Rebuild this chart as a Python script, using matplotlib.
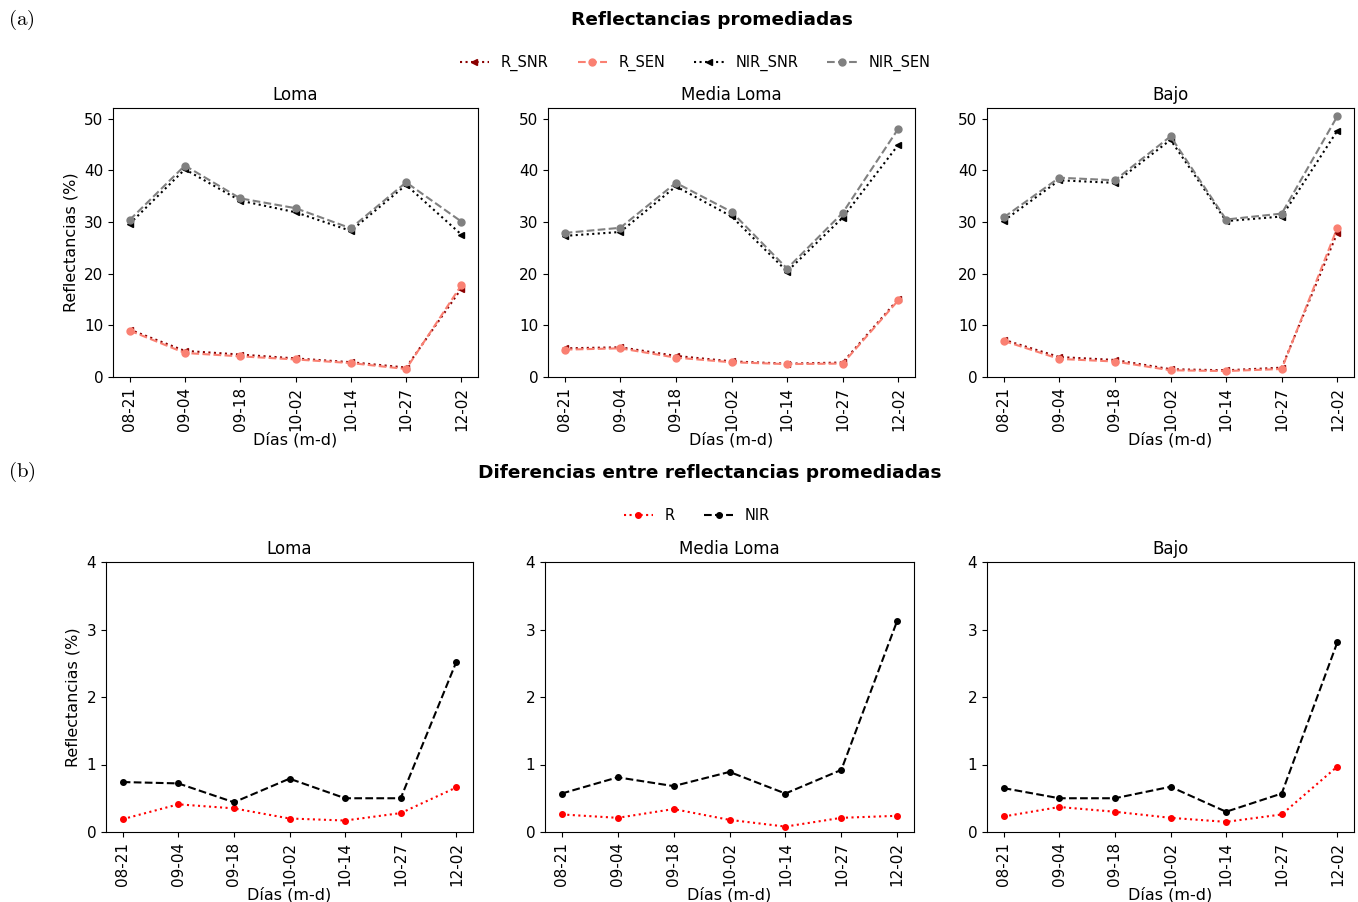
import numpy as np
import matplotlib.pyplot as plt

dias = ['08-21', '09-04', '09-18', '10-02', '10-14', '10-27', '12-02']
zonas = ['Loma', 'Media Loma', 'Bajo']

# reflectancias promediadas (%)
r_snr = [[9.19, 5.06, 4.35, 3.60, 2.87, 1.83, 17.14],
         [5.55, 5.76, 4.09, 3.03, 2.58, 2.81, 15.09],
         [7.22, 3.87, 3.30, 1.51, 1.30, 1.81, 27.93]]
r_sen = [[9.00, 4.65, 4.00, 3.40, 2.70, 1.55, 17.80],
         [5.30, 5.55, 3.75, 2.85, 2.50, 2.60, 14.85],
         [7.00, 3.50, 3.00, 1.30, 1.15, 1.55, 28.90]]
nir_snr = [[29.66, 40.23, 34.16, 31.91, 28.30, 37.20, 27.58],
           [27.33, 28.09, 36.92, 31.11, 20.43, 30.88, 44.97],
           [30.25, 38.10, 37.60, 45.93, 30.20, 31.08, 47.69]]
nir_sen = [[30.40, 40.95, 34.60, 32.70, 28.80, 37.70, 30.10],
           [27.90, 28.90, 37.60, 32.00, 21.00, 31.80, 48.10],
           [30.90, 38.60, 38.10, 46.60, 30.50, 31.65, 50.50]]

# diferencias entre reflectancias promediadas (%)
dif_r = [[0.19, 0.41, 0.35, 0.20, 0.17, 0.28, 0.66],
         [0.26, 0.21, 0.34, 0.18, 0.08, 0.21, 0.24],
         [0.23, 0.37, 0.30, 0.21, 0.15, 0.26, 0.97]]
dif_nir = [[0.74, 0.72, 0.44, 0.79, 0.50, 0.50, 2.52],
           [0.57, 0.81, 0.68, 0.89, 0.57, 0.92, 3.13],
           [0.65, 0.50, 0.50, 0.67, 0.30, 0.57, 2.81]]

plt.rcParams['xtick.labelsize'] = 11
plt.rcParams['ytick.labelsize'] = 11
plt.rcParams['axes.labelsize'] = 11.5
plt.rcParams['axes.titlesize'] = 12

fig = plt.figure(figsize=(13.58, 9.02), dpi=100)
W, H = 1358, 902


def axes_px(x0, x1, y0, y1):
    return fig.add_axes([x0 / W, 1 - y1 / H, (x1 - x0) / W, (y1 - y0) / H])


top = [axes_px(113, 478, 108, 377), axes_px(548, 915, 108, 377), axes_px(987, 1354, 108, 377)]
bot = [axes_px(106, 473, 562, 832), axes_px(545, 914, 562, 832), axes_px(987, 1354, 562, 832)]

x = np.arange(len(dias))
for i, ax in enumerate(top):
    ax.plot(x, r_snr[i], ':', color='darkred', marker='<', ms=4, label='R_SNR')
    ax.plot(x, r_sen[i], '--', color='salmon', marker='o', ms=5, label='R_SEN')
    ax.plot(x, nir_snr[i], ':', color='black', marker='<', ms=4, label='NIR_SNR')
    ax.plot(x, nir_sen[i], '--', color='gray', marker='o', ms=5, label='NIR_SEN')
    ax.set_ylim(0, 52.1)
    ax.set_title(zonas[i])

for i, ax in enumerate(bot):
    ax.plot(x, dif_r[i], ':', color='red', marker='o', ms=4, label='R')
    ax.plot(x, dif_nir[i], '--', color='black', marker='o', ms=4, label='NIR')
    ax.set_ylim(0, 4)
    ax.set_yticks([0, 1, 2, 3, 4])
    ax.set_title(zonas[i])

for ax in top + bot:
    ax.set_xticks(x)
    ax.set_xticklabels(dias, rotation=90)
    ax.set_xlabel('Días (m-d)', labelpad=1)

top[0].set_ylabel('Reflectancias (%)')
bot[0].set_ylabel('Reflectancias (%)')

h, l = top[0].get_legend_handles_labels()
fig.legend(h, l, loc='center', bbox_to_anchor=(695 / W, 1 - 63 / H), ncol=4,
           frameon=False, fontsize=10.5)
h, l = bot[0].get_legend_handles_labels()
fig.legend(h, l, loc='center', bbox_to_anchor=(697 / W, 1 - 516 / H), ncol=2,
           frameon=False, fontsize=10.5)

fig.text(712 / W, 1 - 20 / H, 'Reflectancias promediadas', ha='center', va='center',
         fontsize=13.3, fontweight='bold')
fig.text(710 / W, 1 - 473 / H, 'Diferencias entre reflectancias promediadas', ha='center',
         va='center', fontsize=13.3, fontweight='bold')
fig.text(8 / W, 1 - 20 / H, r'$\mathrm{(a)}$', math_fontfamily='cm', fontsize=15, va='center')
fig.text(8 / W, 1 - 472 / H, r'$\mathrm{(b)}$', math_fontfamily='cm', fontsize=15, va='center')

fig.savefig('out.png', dpi=100)
